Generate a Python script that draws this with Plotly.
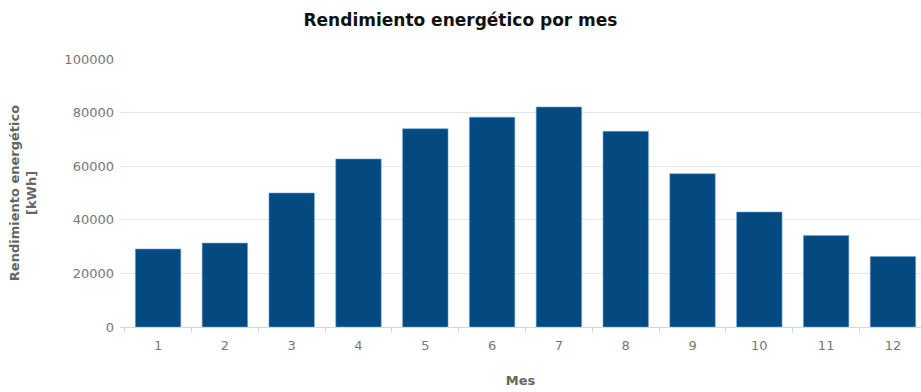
import plotly.graph_objects as go

months = ["1", "2", "3", "4", "5", "6", "7", "8", "9", "10", "11", "12"]
energy_kwh = [29100, 31300, 50000, 62700, 74000, 78300, 82100, 73000, 57200, 42900, 34100, 26300]

title_text = "Rendimiento energético por mes"
x_title = "Mes"
y_title = "Rendimiento energético<br>[kWh]"

fig = go.Figure(go.Bar(
    x=months, y=energy_kwh,
    marker=dict(color="#04497f", line=dict(color="#6aa6d6", width=0.6)),
    width=0.68,
))

fig.update_layout(
    width=921, height=392,
    margin=dict(l=120, r=0, t=59, b=65),
    paper_bgcolor="white", plot_bgcolor="white",
    title=dict(text="<b>" + title_text + "</b>", x=0.5, xanchor="center",
               y=0.948, yanchor="middle",
               font=dict(family="DejaVu Sans", size=17, color="#111111")),
    showlegend=False,
)
fig.update_xaxes(
    type="category", range=[-0.57, 11.42],
    tickson="boundaries", ticks="outside", ticklen=5, tickcolor="#d0d8e0",
    showline=True, linecolor="#d0d8e0", linewidth=1,
    showgrid=False, ticklabelstandoff=6,
    tickfont=dict(family="DejaVu Sans", size=13, color="#777777"),
    title=dict(text="<b>" + x_title + "</b>", standoff=24,
               font=dict(family="DejaVu Sans", size=13, color="#666666")),
)
fig.update_yaxes(
    range=[0, 100000], dtick=20000, tickformat="d",
    showgrid=True, gridcolor="#e6e6e6", gridwidth=1,
    zeroline=False, showline=False,
    ticks="", ticklabelstandoff=5,
    tickfont=dict(family="DejaVu Sans", size=13, color="#777777"),
    title=dict(text="<b>" + y_title + "</b>", standoff=24,
               font=dict(family="DejaVu Sans", size=13, color="#666666")),
)

fig.write_html("out.html")
